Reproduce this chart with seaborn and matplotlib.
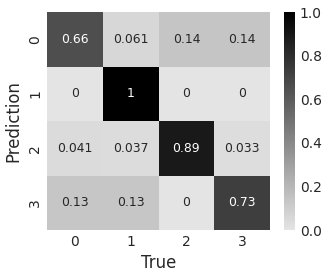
import numpy as np
import pandas as pd
import seaborn as sns
import matplotlib
matplotlib.use("Agg")
import matplotlib.pyplot as plt
from matplotlib.colors import LinearSegmentedColormap

labels = ["0", "1", "2", "3"]
row0 = [0.66, 0.061, 0.14, 0.14]
row1 = [0.0, 1.0, 0.0, 0.0]
row2 = [0.041, 0.037, 0.89, 0.033]
row3 = [0.13, 0.13, 0.0, 0.73]

data = pd.DataFrame([row0, row1, row2, row3], index=labels, columns=labels)

sns.set_style("white")
plt.rcParams['font.family'] = ['DejaVu Sans']

cmap = LinearSegmentedColormap.from_list("g", ["#e4e4e4", "#000000"])

fig = plt.figure(figsize=(3.31, 2.77), dpi=100)
ax = fig.add_axes([47/331, 1 - 230/277, (270-47)/331, (230-12)/277])
cax = fig.add_axes([284/331, 1 - 230/277, (295-284)/331, (230-12)/277])

sns.heatmap(data, ax=ax, cbar_ax=cax, cmap=cmap, vmin=0, vmax=1,
            annot=True, fmt=".2g", annot_kws={"size": 8.9})

ax.set_xlabel("True", fontsize=11.9, color="#262626")
ax.set_ylabel("Prediction", fontsize=11.9, color="#262626")
ax.tick_params(axis="both", labelsize=10, colors="#262626", length=0)
ax.set_yticklabels(labels, rotation=90, va="center")
cax.tick_params(labelsize=10, colors="#262626", length=0)
cax.set_yticks([0, 0.2, 0.4, 0.6, 0.8, 1.0])
cax.set_yticklabels(["0.0", "0.2", "0.4", "0.6", "0.8", "1.0"])
for s in cax.spines.values():
    s.set_visible(False)

fig.savefig("out.png", dpi=100)
